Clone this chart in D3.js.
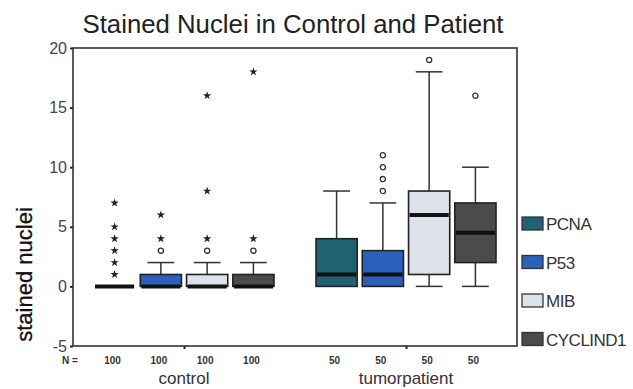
<!DOCTYPE html>
<html>
<head>
<meta charset="utf-8">
<script src="https://cdn.jsdelivr.net/npm/d3@7"></script>
<style>
    body { margin: 0; background: #fff; }
    #chart-area { width: 633px; height: 389px; }
    text { font-family: "Liberation Sans", Arial, sans-serif; }
</style>
</head>
<body>
<div id="chart-area"></div>
<script>

// data
let groups = ["control", "tumorpatient"];
let markers = ["PCNA", "P53", "MIB", "CYCLIND1"];
let markerColors = ["#1f6372", "#2c60bd", "#dde2ea", "#4b4b4d"];
let groupN = [100, 50];

// box stats per group, one row per marker: [low whisker, q1, median, q3, high whisker]
let controlBoxes = [
    [0, 0, 0, 0, 0],
    [0, 0, 0, 1, 2],
    [0, 0, 0, 1, 2],
    [0, 0, 0, 1, 2]
];
let patientBoxes = [
    [0, 0, 1, 4, 8],
    [0, 0, 1, 3, 7],
    [0, 1, 6, 8, 18],
    [0, 2, 4.5, 7, 10]
];

// outliers (o) and extremes (*)
let controlOutliers = [[], [3], [3], [3]];
let controlExtremes = [[1, 2, 3, 4, 5, 7], [4, 6], [4, 8, 16], [4, 18]];
let patientOutliers = [[], [8, 9, 10, 11], [19], [16]];
let patientExtremes = [[], [], [], []];

let yTicks = [-5, 0, 5, 10, 15, 20];


/* * * * * * * * * * * * * *
*      class BoxVis        *
* * * * * * * * * * * * * */

class BoxVis {

    constructor(parentElement){
        this.parentElement = parentElement;
        this.initVis()
    }

    initVis(){
        let vis = this;

        vis.margin = {top: 48, right: 116, bottom: 43, left: 73};
        vis.width = 633 - vis.margin.left - vis.margin.right;
        vis.height = 389 - vis.margin.top - vis.margin.bottom;

        vis.svg = d3.select("#" + vis.parentElement).append("svg")
            .attr("width", 633)
            .attr("height", 389)
            .append('g')
            .attr('transform', `translate (${vis.margin.left}, ${vis.margin.top})`);

        // scales
        vis.y = d3.scaleLinear().domain([-5, 20]).range([vis.height, 0]);
        vis.x = d3.scalePoint().domain(groups).range([0, vis.width]).padding(0.5);
        vis.xInner = d3.scaleBand().domain(markers).range([-90, 90]).paddingInner(0.11);
        vis.color = d3.scaleOrdinal().domain(markers).range(markerColors);

        // title
        vis.svg.append('text')
            .attr('class', 'title')
            .attr('x', 220)
            .attr('y', -15)
            .attr('text-anchor', 'middle')
            .attr('font-size', 26)
            .attr('fill', '#222')
            .attr('textLength', 421)
            .attr('lengthAdjust', 'spacingAndGlyphs')
            .text('Stained Nuclei in Control and Patient');

        // y label
        vis.svg.append('text')
            .attr('transform', `translate(-41, ${vis.y(1)}) rotate(-90)`)
            .attr('text-anchor', 'middle')
            .attr('font-size', 22)
            .attr('fill', '#111')
            .attr('stroke', '#111')
            .attr('stroke-width', 0.3)
            .text('stained nuclei');

        // y axis
        vis.yAxis = d3.axisLeft(vis.y).tickValues(yTicks).tickSize(3).tickPadding(3)
            .tickFormat(d => String(d));
        vis.svg.append('g')
            .attr('class', 'y-axis')
            .call(vis.yAxis)
            .call(g => g.select('.domain').remove())
            .call(g => g.selectAll('line').attr('stroke', '#222').attr('stroke-width', 2))
            .call(g => g.selectAll('text').attr('font-size', 16).attr('fill', '#444')
                .attr('font-family', '"Liberation Sans", Arial, sans-serif'));

        // x axis (small ticks at group centres, no labels)
        vis.xAxis = d3.axisBottom(vis.x).tickSize(3).tickFormat('');
        vis.svg.append('g')
            .attr('transform', `translate(0, ${vis.height})`)
            .call(vis.xAxis)
            .call(g => g.select('.domain').remove())
            .call(g => g.selectAll('line').attr('stroke', '#222').attr('stroke-width', 2));

        // frame
        vis.svg.append('rect')
            .attr('width', vis.width)
            .attr('height', vis.height)
            .attr('fill', 'none')
            .attr('stroke', '#333')
            .attr('stroke-width', 1.6);

        this.wrangleData();
    }

    wrangleData(){
        let vis = this;

        vis.displayData = [];
        let sets = [
            {box: controlBoxes, out: controlOutliers, ext: controlExtremes},
            {box: patientBoxes, out: patientOutliers, ext: patientExtremes}
        ];
        groups.forEach((g, gi) => {
            markers.forEach((m, mi) => {
                let s = sets[gi].box[mi];
                vis.displayData.push({
                    group: g, marker: m, n: groupN[gi],
                    lo: s[0], q1: s[1], med: s[2], q3: s[3], hi: s[4],
                    outliers: sets[gi].out[mi],
                    extremes: sets[gi].ext[mi]
                });
            });
        });

        vis.updateVis()
    }

    updateVis(){
        let vis = this;
        let bw = vis.xInner.bandwidth();
        let capW = bw * 0.65;

        let boxes = vis.svg.selectAll('.box')
            .data(vis.displayData)
            .enter().append('g')
            .attr('class', 'box')
            .attr('transform', d => `translate(${vis.x(d.group) + vis.xInner(d.marker) + bw / 2}, 0)`);

        // whiskers
        boxes.filter(d => d.hi > d.q3).append('line')
            .attr('y1', d => vis.y(d.q3)).attr('y2', d => vis.y(d.hi))
            .attr('stroke', '#333').attr('stroke-width', 1.5);
        boxes.filter(d => d.hi > d.q3).append('line')
            .attr('x1', -capW / 2).attr('x2', capW / 2)
            .attr('y1', d => vis.y(d.hi)).attr('y2', d => vis.y(d.hi))
            .attr('stroke', '#333').attr('stroke-width', 1.5);
        boxes.filter(d => d.lo < d.q1).append('line')
            .attr('y1', d => vis.y(d.q1)).attr('y2', d => vis.y(d.lo))
            .attr('stroke', '#333').attr('stroke-width', 1.5);
        boxes.filter(d => d.lo < d.q1).append('line')
            .attr('x1', -capW / 2).attr('x2', capW / 2)
            .attr('y1', d => vis.y(d.lo)).attr('y2', d => vis.y(d.lo))
            .attr('stroke', '#333').attr('stroke-width', 1.5);

        // box body
        boxes.filter(d => d.q3 > d.q1).append('rect')
            .attr('x', -bw / 2)
            .attr('width', bw)
            .attr('y', d => vis.y(d.q3))
            .attr('height', d => vis.y(d.q1) - vis.y(d.q3))
            .attr('fill', d => vis.color(d.marker))
            .attr('stroke', '#222')
            .attr('stroke-width', 1.6);

        // median
        boxes.append('line')
            .attr('x1', -bw / 2 + 1).attr('x2', bw / 2 - 1)
            .attr('y1', d => vis.y(d.med)).attr('y2', d => vis.y(d.med))
            .attr('stroke', '#111')
            .attr('stroke-width', 4);

        // outliers
        boxes.selectAll('.outlier')
            .data(d => d.outliers)
            .enter().append('circle')
            .attr('class', 'outlier')
            .attr('cy', d => vis.y(d))
            .attr('r', 2.6)
            .attr('fill', '#fff')
            .attr('stroke', '#333')
            .attr('stroke-width', 1.3);

        // extremes
        boxes.selectAll('.extreme')
            .data(d => d.extremes)
            .enter().append('path')
            .attr('class', 'extreme')
            .attr('transform', d => `translate(0, ${vis.y(d)})`)
            .attr('d', d3.symbol(d3.symbolStar, 22))
            .attr('fill', '#222');

        // N = row
        vis.svg.append('text')
            .attr('x', -3).attr('y', vis.height + 18)
            .attr('text-anchor', 'middle')
            .attr('font-size', 10).attr('font-weight', 'bold').attr('fill', '#333')
            .text('N =');
        boxes.append('text')
            .attr('y', vis.height + 18)
            .attr('x', -2)
            .attr('text-anchor', 'middle')
            .attr('font-size', 10).attr('font-weight', 'bold').attr('fill', '#333')
            .text(d => d.n);

        // group labels
        vis.svg.selectAll('.group-label')
            .data(groups)
            .enter().append('text')
            .attr('class', 'group-label')
            .attr('x', d => vis.x(d))
            .attr('y', vis.height + 38)
            .attr('text-anchor', 'middle')
            .attr('font-size', 17)
            .attr('fill', '#333')
            .text(d => d);

        // legend
        let legend = vis.svg.selectAll('.legend')
            .data(markers)
            .enter().append('g')
            .attr('class', 'legend')
            .attr('transform', (d, i) => `translate(${vis.width + 5}, ${176 + i * 38.5})`);
        legend.append('rect')
            .attr('y', -7).attr('width', 21).attr('height', 13)
            .attr('fill', d => vis.color(d))
            .attr('stroke', '#333').attr('stroke-width', 1.3);
        legend.append('text')
            .attr('x', 24).attr('y', 6)
            .attr('font-size', 17)
            .attr('letter-spacing', -0.5)
            .attr('fill', '#333')
            .text(d => d);
    }
}

let boxVis = new BoxVis('chart-area');

</script>
</body>
</html>
